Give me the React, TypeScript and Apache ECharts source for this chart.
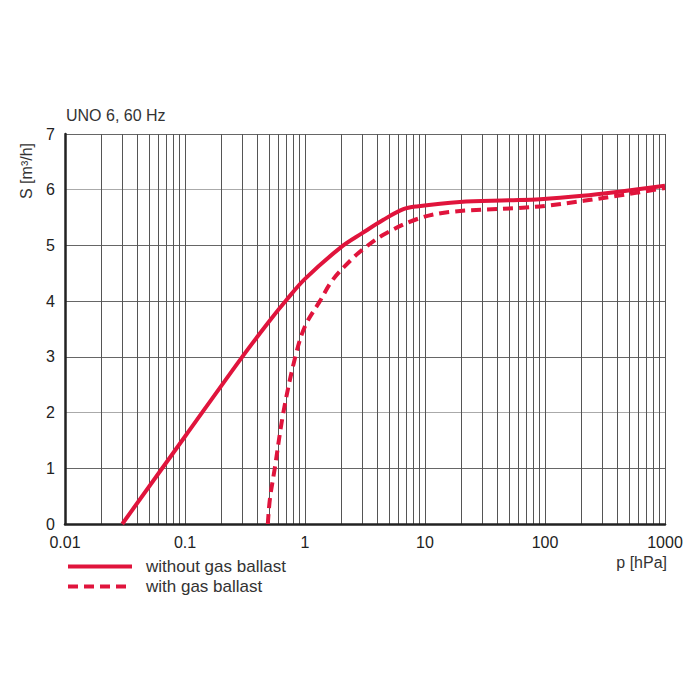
import React, { useEffect, useRef } from "react";
import * as echarts from "echarts";

const withoutBallast: [number, number][] = [
  [0.03, 0], [0.1, 1.57], [0.3, 3.0], [0.5, 3.63], [0.7, 4.02], [1, 4.4],
  [2, 4.97], [3, 5.22], [4.5, 5.46], [6.6, 5.65], [8.5, 5.7], [19.5, 5.78],
  [50, 5.81], [91, 5.83], [205, 5.89], [400, 5.96], [1000, 6.07],
];

const withBallast: [number, number][] = [
  [0.49, 0], [0.51, 0.45], [0.56, 1], [0.66, 2], [0.83, 3], [1.0, 3.55],
  [1.33, 4.0], [1.7, 4.38], [2.37, 4.72], [3, 4.92], [4.5, 5.19], [8.5, 5.47],
  [16, 5.6], [58, 5.67], [110, 5.72], [400, 5.89], [1000, 6.03],
];

const seriesNames = ["without gas ballast", "with gas ballast"];
const xTickLabels: Record<string, string> = {
  "0.01": "0.01", "0.1": "0.1", "1": "1", "10": "10", "100": "100", "1000": "1000",
};
const yGridColors = ["#333", "#666", "#aaa", "#666", "#666", "#666", "#aaa", "#666"];
const yAxisName = "S [m³/h]";

const RED = "#e0143c";
const FONT = "Liberation Sans, Arial, sans-serif";

export default function App() {
  const ref = useRef<HTMLDivElement>(null);
  useEffect(() => {
    if (!ref.current) return;
    const chart = echarts.init(ref.current, undefined, { renderer: "svg" });
    chart.setOption({
      animation: false,
      textStyle: { fontFamily: FONT },
      title: {
        text: "UNO 6, 60 Hz",
        left: 61,
        top: 102,
        textStyle: { fontSize: 16, fontWeight: "normal", color: "#333", fontFamily: FONT },
      },
      graphic: [
        {
          type: "text",
          x: 26,
          y: 199,
          rotation: Math.PI / 2,
          style: {
            text: yAxisName,
            fontSize: 16,
            fontFamily: FONT,
            fill: "#333",
            align: "left",
            verticalAlign: "middle",
          },
        },
      ],
      legend: {
        orient: "vertical",
        left: 61,
        top: 553,
        itemWidth: 64,
        itemHeight: 14,
        itemGap: 3,
        data: seriesNames.map((n) => ({ name: n, itemStyle: { opacity: 0 } })),
        lineStyle: { width: 4 },
        textStyle: {
          fontSize: 17, lineHeight: 14, color: "#333", padding: [0, 0, 0, 9], fontFamily: FONT,
        },
      },
      grid: { left: 65, right: 35, top: 134, bottom: 176, containLabel: false },
      xAxis: {
        type: "log",
        logBase: 10,
        min: 0.01,
        max: 1000,
        name: "p [hPa]",
        nameLocation: "end",
        nameGap: 0,
        nameTextStyle: {
          fontSize: 16, color: "#333", align: "right", verticalAlign: "top",
          padding: [30, -2, 0, 0], fontFamily: FONT,
        },
        axisLine: { show: true, lineStyle: { color: "#222", width: 2.5 } },
        axisTick: { show: false },
        axisLabel: {
          fontSize: 16, color: "#222", margin: 10,
          formatter: (v: number) => xTickLabels[String(v)] ?? String(v),
        },
        splitLine: { show: true, lineStyle: { color: "#555", width: 1 } },
        minorTick: { show: false, splitNumber: 9 },
        minorSplitLine: { show: true, lineStyle: { color: "#555", width: 1 } },
      },
      yAxis: {
        type: "value",
        min: 0,
        max: 7,
        interval: 1,
        axisLine: { show: true, lineStyle: { color: "#222", width: 2.5 } },
        axisTick: { show: false },
        axisLabel: { fontSize: 16, color: "#222", margin: 10 },
        splitLine: { show: true, lineStyle: { color: yGridColors, width: 1 } },
      },
      series: [
        {
          name: seriesNames[0],
          type: "line",
          data: withoutBallast,
          smooth: 0.35,
          symbol: "none",
          color: RED,
          lineStyle: { color: RED, width: 4 },
          z: 5,
        },
        {
          name: seriesNames[1],
          type: "line",
          data: withBallast,
          smooth: 0.35,
          symbol: "none",
          color: RED,
          lineStyle: { color: RED, width: 4, type: [10, 6] },
          z: 5,
        },
      ],
    });
    return () => chart.dispose();
  }, []);
  return <div ref={ref} style={{ width: 700, height: 700, margin: -8 }} />;
}
